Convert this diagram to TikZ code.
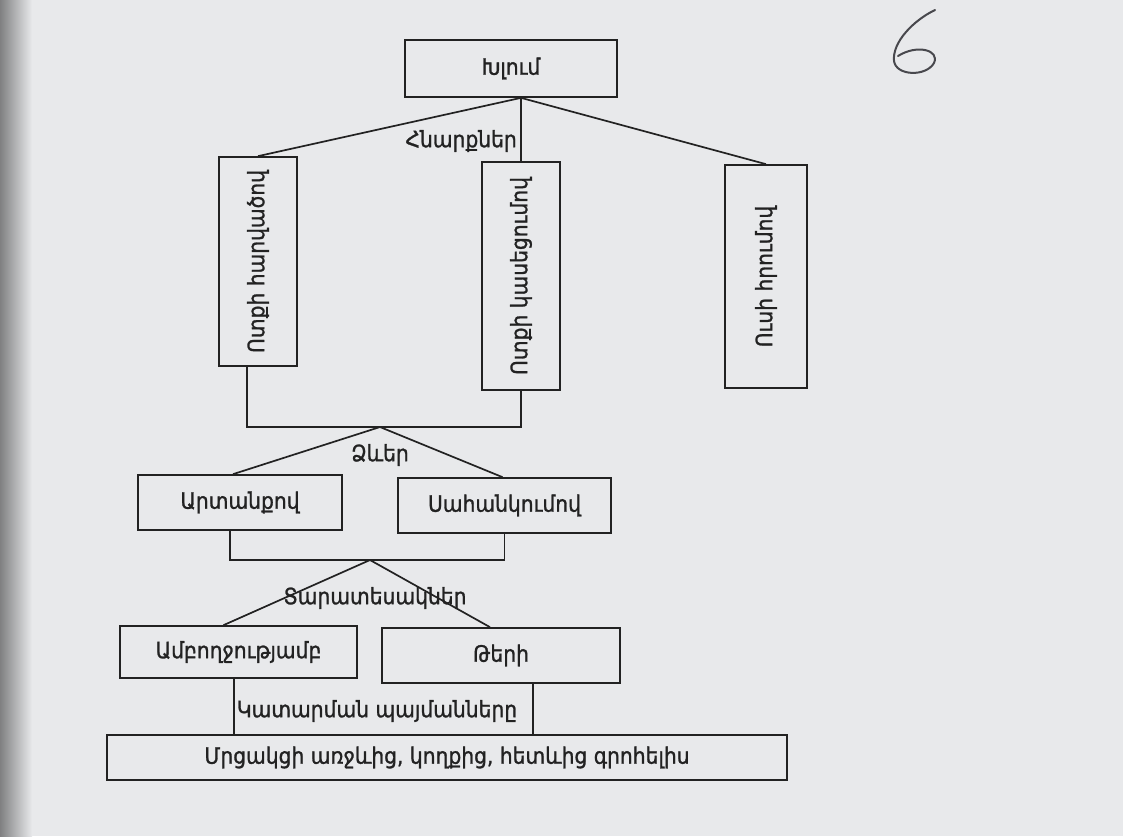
\documentclass[tikz,border=0pt]{standalone}
\usepackage{fontspec}
\setmainfont{DejaVu Sans}[FakeStretch=0.9, FakeBold=1.2]
\usetikzlibrary{calc}
\definecolor{ink}{HTML}{222222}
\definecolor{paper}{HTML}{E8E9EB}
\definecolor{pencil}{HTML}{48484D}
\begin{document}
\begin{tikzpicture}[x=1pt,y=-1pt,
  box/.style={draw=ink, line width=1.7pt, inner sep=0pt},
  link/.style={draw=ink, line width=1.7pt},
  txt/.style={text=ink, inner sep=1pt, font=\fontsize{22.5}{26}\selectfont},
  vtxt/.style={txt, rotate=90}]

% page
\fill[paper] (0,0) rectangle (1123,836);
\shade[left color=paper!55!black, right color=paper] (0,0) rectangle (32,836);
\useasboundingbox (0,0) rectangle (1123,836);

% top level
\node[box, minimum width=212pt, minimum height=57pt] (top) at (511,68.5) {};
\node[txt] (toptxt) at (top.center) {Խլում};

% techniques (vertical boxes)
\node[box, minimum width=78pt, minimum height=209pt] (b1) at (258,261.5) {};
\node[box, minimum width=78pt, minimum height=228pt] (b2) at (521,276) {};
\node[box, minimum width=82pt, minimum height=223pt] (b3) at (766,276.5) {};
\node[vtxt] (b1t) at (b1.center) {Ոտքի հարվածով};
\node[vtxt] (b2t) at (b2.center) {Ոտքի կասեցումով};
\node[vtxt] (b3t) at (b3.center) {Ուսի հրումով};

\coordinate (hub1) at (b2.north |- top.south);
\draw[link] (hub1) -- (b1.north);
\draw[link] (hub1) -- (b3.north);
\draw[link] (hub1) -- (b2.north);
\node[txt, anchor=east] (l1) at (518,141) {Հնարքներ};

% forms
\node[box, minimum width=204pt, minimum height=55pt] (f1) at (240,502.5) {};
\node[box, minimum width=213pt, minimum height=55pt] (f2) at (504.5,505.5) {};
\node[txt] (f1t) at (f1.center) {Արտանքով};
\node[txt] (f2t) at (f2.center) {Սահանկումով};

\coordinate (j1) at (247,427);
\coordinate (a2) at (380,427);
\draw[link] (j1 |- b1.south) -- (j1) -- (j1 -| b2.south) -- (b2.south);
\draw[link] (a2) -- ($(f1.north)+(-7,0)$);
\draw[link] (a2) -- ($(f2.north)+(-2,0)$);
\node[txt] (l2) at (380,455) {Ձևեր};

% varieties
\node[box, minimum width=237pt, minimum height=52pt] (v1) at (238.5,652) {};
\node[box, minimum width=238pt, minimum height=55pt] (v2) at (501,655.5) {};
\node[txt] (v1t) at (v1.center) {Ամբողջությամբ};
\node[txt] (v2t) at (v2.center) {Թերի};

\coordinate (j2) at (230,560);
\coordinate (a3) at (370,560);
\draw[link] (j2 |- f1.south) -- (j2) -- (j2 -| f2.south) -- (f2.south);
\draw[link] (a3) -- ($(v1.north)+(-15,0)$);
\draw[link] (a3) -- ($(v2.north)+(-11,0)$);
\node[txt] (l3) at (375,598) {Տարատեսակներ};

% conditions
\node[box, minimum width=680pt, minimum height=45pt] (c) at (447,757.5) {};
\node[txt] (ct) at (c.center) {Մրցակցի առջևից, կողքից, հետևից գրոհելիս};
\coordinate (k1) at (234,735);
\coordinate (k2) at (533,735);
\draw[link] (k1 |- v1.south) -- (k1 |- c.north);
\draw[link] (k2 |- v2.south) -- (k2 |- c.north);
\node[txt] (l4) at (377,711) {Կատարման պայմանները};

% page number written by hand
\draw[pencil, line width=2pt, line cap=round]
  (935,10) .. controls (914,20) and (892,42) .. (894,61)
  .. controls (896,76) and (926,77) .. (934,63)
  .. controls (940,50) and (917,44) .. (898,56);
\end{tikzpicture}
\end{document}
